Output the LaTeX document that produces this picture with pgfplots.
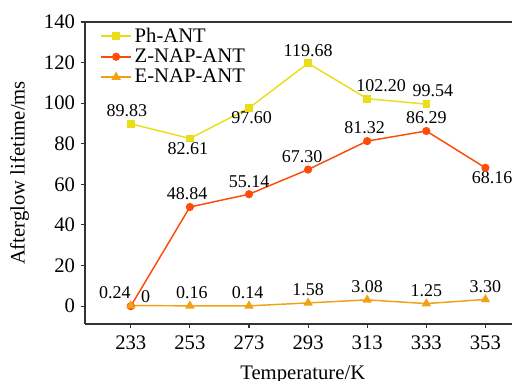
\documentclass[border=0pt]{standalone}
\usepackage{fontspec}
\setmainfont{Liberation Serif}
\usepackage{pgfplots}
\usepackage{pgfplotstable}
\pgfplotsset{compat=1.18}
\definecolor{phcol}{RGB}{235,222,25}
\definecolor{zcol}{RGB}{255,75,10}
\definecolor{ecol}{RGB}{242,160,20}
\pgfplotstableread{
x y
233 89.83
253 82.61
273 97.60
293 119.68
313 102.20
333 99.54
}\phdata
\pgfplotstableread{
x y
233 0
253 48.84
273 55.14
293 67.30
313 81.32
333 86.29
353 68.16
}\zdata
\pgfplotstableread{
x y
233 0.24
253 0.16
273 0.14
293 1.58
313 3.08
333 1.25
353 3.30
}\edata
\tikzset{vl/.style={font=\fontsize{13.5}{15}\selectfont, text=black, inner sep=2.5pt},
  vs/.style={vl, anchor=south, yshift=2.5pt}}
\begin{document}
\begin{tikzpicture}
\path[use as bounding box] (-63.75pt,-42.75pt) rectangle (320.25pt,243pt);
\begin{axis}[
  scale only axis,
  width=320.25pt, height=226.5pt,
  xmin=217.5, xmax=362, ymin=-8.8, ymax=140,
  axis x line*=box, axis y line*=left,
  axis line style={line width=0.9pt, black!80},
  xtick={233,253,...,353},
  ytick={0,20,...,140},
  tick align=outside,
  major tick length=3pt,
  tick style={black!80, line width=0.8pt},
  xtick pos=bottom, ytick pos=left,
  /pgf/number format/assume math mode=true,
  /pgf/number format/1000 sep={},
  ticklabel style={font=\fontsize{15.5}{17}\selectfont},
  xticklabel style={yshift=-2pt},
  yticklabel style={xshift=-1pt},
  xlabel={Temperature/K},
  ylabel={Afterglow lifetime/ms},
  every axis x label/.style={at={(axis description cs:0.51,-0.17)}, anchor=center, font=\fontsize{15.5}{17}\selectfont},
  every axis y label/.style={at={(axis description cs:-0.153,0.5)}, rotate=90, anchor=center, font=\fontsize{15.5}{17}\selectfont},
  legend style={at={(0.035,0.99)}, anchor=north west, draw=none, fill=none, inner sep=0pt,
    font=\fontsize{15.5}{16}\selectfont, row sep=-0.5pt,
    /tikz/every even column/.append style={column sep=3pt}},
  legend cell align=left,
  legend image code/.code={
    \draw[#1] (0cm,0cm) -- (0.8cm,0cm);
    \draw[#1, mark repeat=1] plot coordinates {(0.4cm,0cm)};
  },
  clip=false,
]
\addplot[color=phcol, line width=1.1pt, mark=square*, mark size=2.3pt] table[x=x, y=y] {\phdata};
\addlegendentry{Ph-ANT}
\addplot[color=zcol, line width=1.1pt, mark=*, mark size=2.5pt] table[x=x, y=y] {\zdata};
\addlegendentry{Z-NAP-ANT}
\addplot[color=ecol, line width=1.1pt, mark=triangle*, mark size=3pt] table[x=x, y=y] {\edata};
\addlegendentry{E-NAP-ANT}
% value labels (text only)
\node[vs, xshift=-3pt] at (axis cs:233,89.83) {89.83};
\node[vl, anchor=north, xshift=-1.5pt] at (axis cs:253,82.61) {82.61};
\node[vl, anchor=north, xshift=2pt] at (axis cs:273,97.60) {97.60};
\node[vs] at (axis cs:293,119.68) {119.68};
\node[vs, xshift=10.5pt] at (axis cs:313,102.20) {102.20};
\node[vs, xshift=5pt] at (axis cs:333,99.54) {99.54};
\node[vl, anchor=south west, xshift=5pt] at (axis cs:233,0) {0};
\node[vs, xshift=-2pt] at (axis cs:253,48.84) {48.84};
\node[vs] at (axis cs:273,55.14) {55.14};
\node[vs, xshift=-4.5pt] at (axis cs:293,67.30) {67.30};
\node[vs, xshift=-2pt] at (axis cs:313,81.32) {81.32};
\node[vs] at (axis cs:333,86.29) {86.29};
\node[vl, anchor=north, xshift=5pt] at (axis cs:353,68.16) {68.16};
\node[vs, xshift=-12pt] at (axis cs:233,0.24) {0.24};
\node[vs, xshift=1.5pt] at (axis cs:253,0.16) {0.16};
\node[vs, xshift=-1pt] at (axis cs:273,0.14) {0.14};
\node[vs] at (axis cs:293,1.58) {1.58};
\node[vs] at (axis cs:313,3.08) {3.08};
\node[vs] at (axis cs:333,1.25) {1.25};
\node[vs] at (axis cs:353,3.30) {3.30};
\end{axis}
\end{tikzpicture}
\end{document}
